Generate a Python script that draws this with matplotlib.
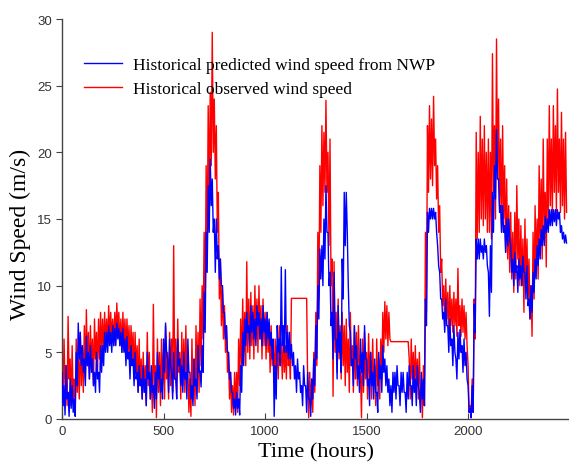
import numpy as np
import matplotlib
matplotlib.use("Agg")
import matplotlib.pyplot as plt

# 10-hour bins: upper and lower level of each trace inside the bin
bin_start = list(range(0, 2490, 10))

observed_hi = [
    5.0, 6.0, 4.0, 7.7, 4.5, 5.5, 3.0, 6.0, 4.5, 6.5,
    5.5, 7.0, 8.2, 6.5, 7.0, 6.0, 7.5, 6.5, 7.5, 8.0,
    7.5, 8.0, 7.5, 8.5, 8.0, 7.5, 8.0, 8.7, 8.0, 7.5,
    8.0, 7.5, 7.5, 7.0, 7.0, 6.5, 6.5, 5.5, 6.0, 4.5,
    5.0, 4.0, 6.5, 5.0, 3.5, 8.6, 4.0, 6.0, 5.0, 6.0,
    5.0, 7.0, 5.0, 6.5, 6.0, 13.0, 6.0, 7.5, 5.0, 6.5,
    6.0, 7.0, 4.0, 3.0, 6.0, 4.5, 7.0, 6.5, 9.0, 10.0,
    14.0, 19.0, 23.5, 24.5, 29.0, 24.0, 22.0, 17.0, 12.0, 10.0,
    8.5, 7.0, 5.0, 3.5, 2.5, 3.5, 3.5, 6.0, 7.5, 9.0,
    8.0, 11.8, 9.0, 9.5, 8.5, 10.0, 9.0, 10.0, 8.5, 9.0,
    8.0, 8.0, 7.0, 7.0, 5.5, 6.0, 5.5, 7.0, 5.5, 6.5,
    5.5, 7.0, 5.0, 9.05, 9.05, 9.05, 9.05, 9.05, 9.05, 9.05,
    9.05, 2.5, 3.5, 3.0, 5.0, 8.0, 14.0, 19.0, 22.0, 21.5,
    23.9, 20.0, 21.0, 12.0, 11.8, 8.0, 9.0, 7.0, 8.0, 7.0,
    7.5, 6.0, 8.0, 5.5, 7.0, 6.5, 7.0, 3.5, 6.0, 6.5,
    5.0, 6.4, 5.0, 6.0, 4.0, 6.0, 4.5, 6.0, 8.0, 8.8,
    8.5, 8.0, 5.8, 5.8, 5.8, 5.8, 5.8, 5.8, 5.8, 5.8,
    5.8, 4.5, 6.0, 5.0, 5.5, 4.5, 5.0, 2.5, 4.0, 14.0,
    22.0, 23.5, 22.5, 24.2, 21.0, 19.0, 16.0, 12.0, 10.0, 10.5,
    9.5, 10.0, 9.0, 9.5, 9.0, 11.3, 8.5, 9.0, 8.5, 8.0,
    4.0, 1.0, 3.0, 9.0, 21.5, 20.0, 22.7, 21.0, 22.0, 20.0,
    21.0, 20.0, 27.4, 22.0, 28.5, 24.0, 21.0, 22.0, 19.0, 18.0,
    16.0, 15.5, 14.0, 15.5, 17.5, 15.0, 14.5, 13.5, 15.0, 13.5,
    12.0, 10.0, 14.0, 16.0, 15.0, 19.0, 18.0, 21.0, 17.0, 21.0,
    23.5, 21.0, 23.5, 22.0, 24.75, 21.0, 23.0, 21.0, 21.5,
]

observed_lo = [
    1.0, 2.5, 1.0, 3.0, 1.0, 1.5, 0.5, 2.0, 1.5, 2.5,
    2.0, 3.0, 4.0, 3.0, 4.0, 2.5, 4.5, 3.5, 4.5, 5.0,
    5.0, 5.5, 5.5, 6.0, 6.0, 5.5, 6.0, 6.5, 5.5, 5.0,
    5.5, 5.0, 5.0, 4.0, 4.5, 3.0, 3.5, 2.0, 2.5, 1.5,
    2.0, 1.0, 2.5, 1.5, 0.5, 2.0, 0.1, 2.0, 1.0, 2.5,
    1.5, 3.0, 1.5, 2.5, 2.0, 3.0, 2.0, 3.5, 1.5, 2.5,
    2.0, 3.0, 0.5, 0.2, 1.5, 1.0, 2.5, 2.0, 4.0, 6.0,
    8.0, 12.0, 16.0, 19.0, 20.0, 18.0, 14.0, 9.0, 7.0, 6.0,
    5.0, 3.5, 1.5, 0.5, 0.3, 0.8, 0.5, 2.5, 4.0, 5.0,
    4.0, 5.0, 4.5, 5.5, 4.5, 6.0, 5.0, 6.0, 4.5, 5.5,
    4.5, 5.0, 3.5, 4.0, 3.0, 3.5, 3.0, 4.0, 3.0, 3.5,
    3.0, 4.0, 3.0, 9.05, 9.05, 9.05, 9.05, 9.05, 9.05, 9.05,
    9.05, 0.1, 1.0, 0.5, 2.0, 4.0, 9.0, 14.0, 16.0, 17.0,
    17.0, 13.0, 10.0, 1.7, 5.0, 3.5, 4.5, 3.0, 4.0, 2.5,
    3.5, 2.0, 4.0, 2.0, 3.0, 2.5, 3.5, 0.1, 2.0, 3.0,
    1.5, 3.0, 1.5, 2.5, 1.0, 2.5, 1.5, 3.0, 5.0, 6.0,
    5.5, 6.0, 5.8, 5.8, 5.8, 5.8, 5.8, 5.8, 5.8, 5.8,
    5.8, 1.5, 3.0, 2.0, 2.5, 1.5, 2.0, 0.1, 1.0, 8.0,
    17.0, 18.0, 17.5, 19.0, 16.5, 14.0, 11.0, 8.5, 7.0, 7.5,
    6.5, 7.0, 6.5, 7.0, 6.2, 7.0, 6.2, 6.5, 6.0, 5.5,
    0.5, 0.1, 0.5, 6.0, 13.5, 14.0, 15.0, 14.5, 15.0, 14.0,
    14.0, 13.5, 17.0, 15.0, 18.0, 16.0, 14.0, 15.0, 12.5, 12.0,
    11.0, 10.5, 9.5, 10.5, 12.0, 10.0, 10.0, 8.0, 10.0, 9.0,
    7.5, 6.2, 9.0, 11.0, 10.5, 13.0, 12.0, 14.0, 11.4, 15.0,
    16.0, 15.2, 17.0, 15.5, 17.0, 15.5, 16.0, 15.0, 15.5,
]

predicted_hi = [
    3.5, 2.5, 4.0, 2.0, 3.0, 2.5, 1.5, 5.0, 7.2, 6.5,
    5.5, 4.5, 6.2, 5.0, 5.5, 4.5, 3.5, 5.0, 3.5, 5.5,
    5.5, 6.5, 6.5, 7.0, 6.5, 7.0, 6.8, 7.2, 6.8, 6.5,
    6.8, 6.0, 6.2, 5.0, 5.5, 4.5, 5.0, 3.5, 4.0, 3.0,
    4.0, 3.0, 5.0, 3.5, 4.0, 2.5, 3.5, 5.0, 4.0, 3.0,
    6.0, 7.2, 4.5, 6.0, 3.5, 5.0, 3.0, 6.0, 4.5, 4.0,
    5.0, 3.5, 6.0, 3.5, 2.5, 4.5, 3.0, 5.5, 3.6, 5.5,
    9.5, 14.0, 17.5, 19.5, 18.0, 15.0, 15.0, 13.0, 12.0, 10.0,
    8.0, 7.0, 5.0, 3.5, 2.0, 1.5, 2.0, 1.5, 4.0, 6.5,
    7.5, 8.0, 7.0, 8.5, 8.0, 7.5, 8.5, 8.0, 7.5, 8.5,
    7.5, 8.0, 7.5, 6.5, 6.0, 4.0, 7.0, 6.0, 11.4, 7.0,
    11.2, 6.5, 6.5, 5.6, 5.0, 4.0, 4.5, 3.5, 2.5, 4.0,
    2.5, 3.5, 1.5, 3.0, 4.5, 7.0, 10.0, 12.75, 13.0, 15.0,
    17.5, 14.0, 11.0, 8.0, 11.0, 6.0, 8.5, 6.5, 12.0, 17.0,
    17.0, 10.0, 6.5, 4.5, 7.0, 5.5, 4.0, 6.0, 5.0, 7.0,
    4.5, 3.0, 5.0, 3.5, 4.5, 2.0, 5.0, 4.0, 5.5, 4.5,
    4.0, 3.0, 2.5, 3.5, 3.5, 4.0, 2.5, 3.5, 3.5, 2.0,
    3.5, 4.0, 2.5, 4.0, 3.0, 4.0, 2.0, 3.5, 3.0, 9.0,
    15.5, 15.8, 15.8, 15.8, 15.5, 13.0, 11.0, 9.0, 8.0, 9.0,
    7.0, 7.5, 6.0, 7.0, 4.5, 6.5, 6.7, 5.5, 6.0, 5.0,
    2.5, 0.8, 2.5, 8.6, 13.5, 13.5, 13.5, 13.0, 13.5, 13.0,
    11.0, 13.0, 17.0, 19.0, 21.7, 18.0, 16.0, 16.0, 14.5, 15.0,
    15.0, 13.0, 12.0, 12.5, 11.5, 12.0, 11.5, 12.2, 11.0, 11.5,
    9.0, 10.0, 11.0, 12.0, 13.0, 13.5, 14.2, 14.5, 15.2, 15.0,
    15.7, 15.7, 15.7, 15.7, 15.7, 15.5, 14.5, 14.0, 13.8,
]

predicted_lo = [
    1.0, 0.3, 1.5, 0.2, 0.8, 0.5, 0.2, 2.5, 4.5, 4.0,
    3.5, 2.5, 4.0, 3.0, 3.5, 2.5, 2.0, 3.0, 2.0, 3.5,
    4.0, 5.0, 5.0, 5.5, 5.0, 5.5, 5.5, 6.0, 5.5, 5.0,
    5.0, 4.0, 4.5, 3.0, 4.0, 2.5, 3.0, 2.0, 2.5, 1.5,
    2.0, 1.0, 3.0, 1.5, 2.0, 0.8, 1.5, 3.0, 2.0, 1.5,
    3.5, 5.0, 2.0, 4.0, 1.5, 3.0, 1.5, 4.0, 2.5, 2.0,
    3.0, 1.5, 3.5, 1.5, 1.0, 2.5, 1.5, 3.5, 2.4, 3.5,
    6.5, 11.0, 14.0, 16.0, 14.0, 11.0, 12.0, 10.5, 10.0, 8.0,
    6.0, 5.0, 3.0, 2.0, 0.8, 0.3, 0.8, 0.3, 2.0, 4.0,
    5.5, 6.5, 5.5, 6.5, 6.0, 5.5, 7.0, 6.0, 5.5, 6.5,
    5.5, 6.0, 5.5, 4.5, 0.2, 1.5, 5.0, 4.0, 5.5, 5.0,
    5.0, 4.5, 4.5, 4.0, 3.0, 2.0, 3.0, 2.0, 1.0, 2.5,
    0.5, 1.5, 0.2, 1.5, 2.5, 4.5, 7.5, 10.5, 10.0, 12.0,
    14.0, 10.0, 7.0, 4.5, 6.0, 3.0, 5.0, 3.5, 9.0, 13.0,
    14.0, 7.0, 4.0, 2.5, 4.5, 3.0, 2.0, 3.5, 2.5, 4.5,
    2.5, 1.0, 2.5, 1.5, 2.0, 0.5, 3.0, 2.0, 3.5, 2.5,
    2.0, 1.0, 0.5, 2.0, 1.5, 2.5, 1.0, 2.0, 2.0, 0.5,
    1.5, 2.5, 1.0, 2.0, 1.0, 2.5, 0.5, 1.5, 1.0, 7.0,
    14.0, 15.0, 15.0, 15.0, 14.0, 11.5, 9.0, 7.5, 6.5, 7.0,
    5.0, 5.5, 4.0, 5.0, 3.0, 4.5, 5.0, 3.5, 4.0, 3.0,
    0.5, 0.1, 0.5, 6.5, 12.0, 12.0, 12.5, 12.0, 12.5, 11.5,
    7.7, 9.5, 14.0, 16.5, 18.0, 15.5, 14.0, 14.0, 12.5, 13.0,
    13.5, 11.0, 10.0, 11.0, 9.5, 10.5, 10.0, 11.0, 9.0, 8.5,
    7.5, 8.0, 9.5, 10.5, 11.5, 12.0, 13.0, 13.0, 14.0, 14.0,
    14.5, 14.5, 14.8, 14.5, 15.0, 14.0, 13.5, 13.2, 13.2,
]

x_ticks = [0, 500, 1000, 1500, 2000]
y_ticks = [0, 5, 10, 15, 20, 25, 30]
label_pred = "Historical predicted wind speed from NWP"
label_obs = "Historical observed wind speed"


def trace(hi, lo):
    # each 10-hour bin: upper value at bin start, lower value half a bin later
    t = np.ravel(np.column_stack([np.array(bin_start), np.array(bin_start) + 5]))
    v = np.ravel(np.column_stack([hi, lo]))
    return t, v


fig = plt.figure(figsize=(5.69, 4.64), dpi=100)
ax = fig.add_axes([62 / 569, 44 / 464, 507 / 569, 400 / 464])

t_o, v_o = trace(observed_hi, observed_lo)
t_p, v_p = trace(predicted_hi, predicted_lo)
l_obs, = ax.plot(t_o, v_o, color="#ff0000", lw=1.0, zorder=2)
l_pred, = ax.plot(t_p, v_p, color="#0000ff", lw=1.0, zorder=3)

ax.set_xlim(0, 2497)
ax.set_ylim(0, 30)
ax.set_xticks(x_ticks)
ax.set_yticks(y_ticks)
for s in ("top", "right"):
    ax.spines[s].set_visible(False)
for s in ("left", "bottom"):
    ax.spines[s].set_color("#444444")
    ax.spines[s].set_linewidth(1.0)

ax.tick_params(axis="x", direction="in", length=4, colors="#444444", labelsize=9.5,
               labelcolor="#333333", pad=4)
ax.tick_params(axis="y", direction="out", length=4, colors="#444444", labelsize=9.5,
               labelcolor="#333333", pad=3)
for lab in ax.get_xticklabels() + ax.get_yticklabels():
    lab.set_family("Liberation Sans")

ax.set_xlabel("Time (hours)", fontsize=16, family="Liberation Serif", labelpad=4)
ax.set_ylabel("Wind Speed (m/s)", fontsize=17, family="Liberation Serif")
ax.yaxis.set_label_coords(-0.062, 0.465)

ax.legend([l_pred, l_obs], [label_pred, label_obs], loc="upper left",
          bbox_to_anchor=(0.012, 0.945), frameon=False,
          prop={"family": "Liberation Serif", "size": 12.5},
          handlelength=2.2, handletextpad=0.65, labelspacing=0.45)

fig.savefig("out.png", dpi=100)
